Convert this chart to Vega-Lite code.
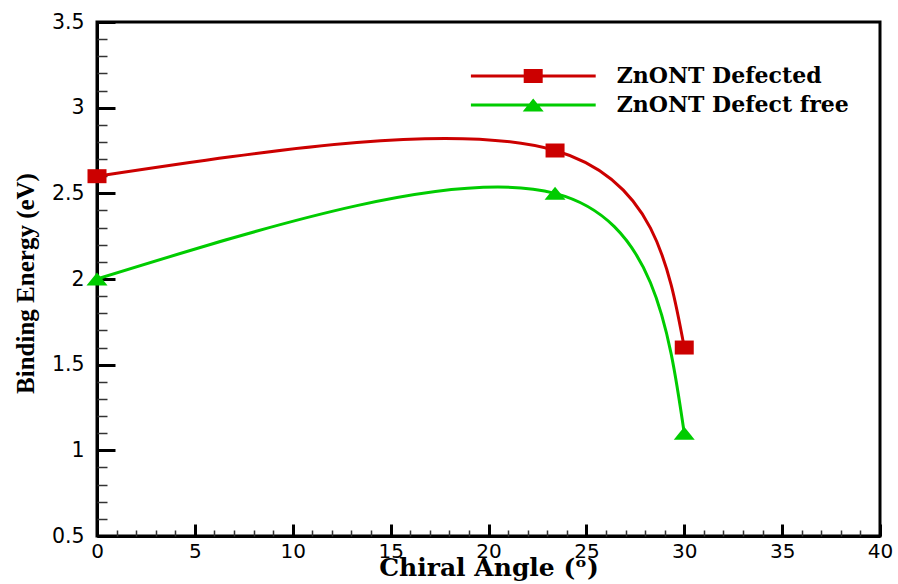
{
  "$schema": "https://vega.github.io/schema/vega-lite/v6.json",
  "width": 783,
  "height": 514,
  "autosize": {"type": "none"},
  "padding": {"left": 97, "top": 22, "right": 18, "bottom": 48},
  "background": "white",
  "config": {
    "view": {"stroke": "black", "strokeWidth": 3},
    "axis": {"grid": false}
  },
  "data": {
    "values": [
      {"angle": 0, "energy": 2.6, "series": "ZnONT Defected"},
      {"angle": 23.4, "energy": 2.75, "series": "ZnONT Defected"},
      {"angle": 30, "energy": 1.6, "series": "ZnONT Defected"},
      {"angle": 0, "energy": 2.0, "series": "ZnONT Defect free"},
      {"angle": 23.4, "energy": 2.5, "series": "ZnONT Defect free"},
      {"angle": 30, "energy": 1.1, "series": "ZnONT Defect free"}
    ]
  },
  "layer": [
    {
      "mark": {"type": "line", "interpolate": "natural", "strokeWidth": 3},
      "encoding": {
        "x": {
          "field": "angle", "type": "quantitative",
          "scale": {"domain": [0, 40], "nice": false, "zero": false},
          "axis": {
            "orient": "bottom", "values": [0, 5, 10, 15, 20, 25, 30, 35, 40],
            "ticks": false, "domain": true, "domainColor": "black", "domainWidth": 3,
            "labelFont": "DejaVu Sans", "labelFontSize": 20, "labelColor": "black",
            "labelPadding": 5, "labelFlush": false, "labelOverlap": false,
            "title": "Chiral Angle (ᵒ)", "titleFont": "DejaVu Serif", "titleFontWeight": "bold",
            "titleFontSize": 25, "titleColor": "black", "titleBaseline": "alphabetic",
            "titleX": 391.5, "titleY": 39, "zindex": 0
          }
        },
        "y": {
          "field": "energy", "type": "quantitative",
          "scale": {"domain": [0.5, 3.5], "nice": false, "zero": false},
          "axis": {
            "orient": "left", "values": [0.5, 1, 1.5, 2, 2.5, 3, 3.5], "format": "~g",
            "ticks": false, "domain": true, "domainColor": "black", "domainWidth": 3,
            "labelFont": "DejaVu Sans", "labelFontSize": 20.5, "labelColor": "black",
            "labelPadding": 13, "labelFlush": false, "labelOverlap": false,
            "title": "Binding Energy (eV)", "titleFont": "Liberation Serif", "titleFontWeight": "bold",
            "titleFontSize": 25, "titleColor": "black", "titleBaseline": "alphabetic",
            "titleAngle": 270, "titleX": -64, "titleY": 261, "zindex": 0
          }
        },
        "color": {
          "field": "series", "type": "nominal",
          "scale": {"domain": ["ZnONT Defected", "ZnONT Defect free"], "range": ["#cc0000", "#00cc00"]},
          "legend": null
        }
      }
    },
    {
      "mark": {"type": "point", "filled": true, "opacity": 1, "size": 400, "strokeWidth": 0},
      "encoding": {
        "x": {
          "field": "angle", "type": "quantitative",
          "axis": {
            "orient": "bottom", "values": [0, 5, 10, 15, 20, 25, 30, 35, 40],
            "ticks": true, "tickSize": -12, "tickWidth": 3, "tickColor": "black",
            "domain": false, "labels": false, "title": null, "zindex": 0
          }
        },
        "y": {
          "field": "energy", "type": "quantitative",
          "axis": {
            "orient": "left", "values": [0.5, 1, 1.5, 2, 2.5, 3, 3.5],
            "ticks": true, "tickSize": -18, "tickWidth": 3, "tickColor": "black",
            "domain": false, "labels": false, "title": null, "zindex": 0
          }
        },
        "color": {
          "field": "series", "type": "nominal",
          "scale": {"domain": ["ZnONT Defected", "ZnONT Defect free"], "range": ["#cc0000", "#00cc00"]},
          "legend": null
        },
        "shape": {
          "field": "series", "type": "nominal",
          "scale": {"domain": ["ZnONT Defected", "ZnONT Defect free"], "range": ["M-0.95,-0.7H0.95V0.7H-0.95Z", "M0,-0.65L1.05,0.65H-1.05Z"]},
          "legend": null
        }
      }
    },
    {
      "mark": {"type": "point", "filled": true, "opacity": 0, "size": 15625, "strokeWidth": 0},
      "encoding": {
        "x": {
          "field": "angle", "type": "quantitative",
          "axis": {
            "orient": "bottom",
            "values": [1, 2, 3, 4, 6, 7, 8, 9, 11, 12, 13, 14, 16, 17, 18, 19, 21, 22, 23, 24, 26, 27, 28, 29, 31, 32, 33, 34, 36, 37, 38, 39],
            "ticks": true, "tickSize": -6, "tickWidth": 1.5, "tickColor": "#333333",
            "domain": false, "labels": false, "title": null, "zindex": 0
          }
        },
        "y": {
          "field": "energy", "type": "quantitative",
          "axis": {
            "orient": "left",
            "values": [0.6, 0.7, 0.8, 0.9, 1.1, 1.2, 1.3, 1.4, 1.6, 1.7, 1.8, 1.9, 2.1, 2.2, 2.3, 2.4, 2.6, 2.7, 2.8, 2.9, 3.1, 3.2, 3.3, 3.4],
            "ticks": true, "tickSize": -10, "tickWidth": 1.5, "tickColor": "#333333",
            "domain": false, "labels": false, "title": null, "zindex": 0
          }
        },
        "color": {
          "field": "series", "type": "nominal",
          "scale": {"domain": ["ZnONT Defected", "ZnONT Defect free"], "range": ["#cc0000", "#00cc00"]},
          "legend": {
            "orient": "none", "legendX": 373.7, "legendY": 39.5, "title": null, "padding": 0,
            "symbolSize": 15625, "symbolStrokeWidth": 0, "symbolOpacity": 1,
            "clipHeight": 29, "rowPadding": 0, "labelOffset": 21,
            "labelFont": "DejaVu Serif", "labelFontWeight": "bold", "labelFontSize": 22,
            "labelColor": "black", "labelLimit": 400
          }
        },
        "shape": {
          "field": "series", "type": "nominal",
          "scale": {
            "domain": ["ZnONT Defected", "ZnONT Defect free"],
            "range": [
              "M-1,-0.024H1V0.024H-1Z M-0.152,-0.112H0.152V0.112H-0.152Z",
              "M-1,-0.024H1V0.024H-1Z M0,-0.104L0.168,0.104H-0.168Z"
            ]
          },
          "legend": {
            "orient": "none", "legendX": 373.7, "legendY": 39.5, "title": null, "padding": 0,
            "symbolSize": 15625, "symbolStrokeWidth": 0, "symbolOpacity": 1,
            "clipHeight": 29, "rowPadding": 0, "labelOffset": 21,
            "labelFont": "DejaVu Serif", "labelFontWeight": "bold", "labelFontSize": 22,
            "labelColor": "black", "labelLimit": 400
          }
        }
      }
    }
  ],
  "resolve": {
    "scale": {"color": "independent", "shape": "independent"},
    "axis": {"x": "independent", "y": "independent"}
  }
}
